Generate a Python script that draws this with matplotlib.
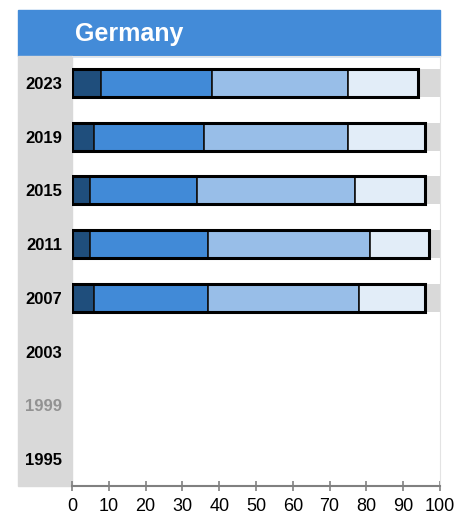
import matplotlib.pyplot as plt
from matplotlib.patches import Rectangle

years = ["2023", "2019", "2015", "2011", "2007", "2003", "1999", "1995"]
# shares per year (four categories), empty where no survey
seg1 = [8, 6, 5, 5, 6, None, None, None]
seg2 = [30, 30, 29, 32, 31, None, None, None]
seg3 = [37, 39, 43, 44, 41, None, None, None]
seg4 = [19, 21, 19, 16, 18, None, None, None]
label_colors = ["black", "black", "black", "black", "black", "black", "#929292", "black"]
title = "Germany"

colors = ["#1f4e7c", "#418ad7", "#98bee8", "#e2edf8"]
grey = "#d9d9d9"

plt.rcParams["font.family"] = ["Liberation Sans", "DejaVu Sans"]

W, H = 472, 517
fig = plt.figure(figsize=(W / 100, H / 100), dpi=100)

# header band
fig.patches.append(Rectangle((18 / W, 1 - 56 / H), (440 - 18) / W, 46 / H,
                             transform=fig.transFigure, color="#438bd8", zorder=-2))
fig.text(75 / W, 1 - 41 / H, title, color="white", fontsize=18, fontweight="bold",
         va="baseline", ha="left")
# grey label strip
fig.patches.append(Rectangle((18 / W, 1 - 486 / H), (72 - 18) / W, (486 - 56) / H,
                             transform=fig.transFigure, color=grey, zorder=-2))

ax = fig.add_axes([72 / W, 1 - 486 / H, 368 / W, 430 / H])
ax.patch.set_alpha(0)

ypos = list(range(len(years)))
h = 0.52
for y, a, b, c, d in zip(ypos, seg1, seg2, seg3, seg4):
    if a is None:
        continue
    ax.barh(y, 100, height=h, color=grey, zorder=1)
    left = 0
    for val, col in zip([a, b, c, d], colors):
        ax.barh(y, val, left=left, height=h, color=col, edgecolor="#111111",
                linewidth=1.2, zorder=2)
        left += val
    ax.add_patch(Rectangle((0, y - h / 2), left, h, fill=False, edgecolor="black",
                           linewidth=2.2, zorder=3))

ax.set_xlim(0, 100)
ax.set_ylim(len(years) - 0.5, -0.5)
ax.set_xticks(range(0, 101, 10))
ax.set_yticks(ypos)
ax.set_yticklabels(years, fontweight="bold", fontsize=12)
for lbl, col in zip(ax.get_yticklabels(), label_colors):
    lbl.set_color(col)
ax.tick_params(axis="y", length=0, pad=7)
ax.tick_params(axis="x", direction="inout", length=7, color="#808080", width=1.2,
               labelsize=13, pad=5)
ax.spines["left"].set_visible(False)
ax.spines["top"].set_color("#e3e3e3")
ax.spines["right"].set_color("#e3e3e3")
ax.spines["bottom"].set_color("#808080")
ax.spines["bottom"].set_linewidth(1.5)

fig.savefig("out.png", dpi=100)
